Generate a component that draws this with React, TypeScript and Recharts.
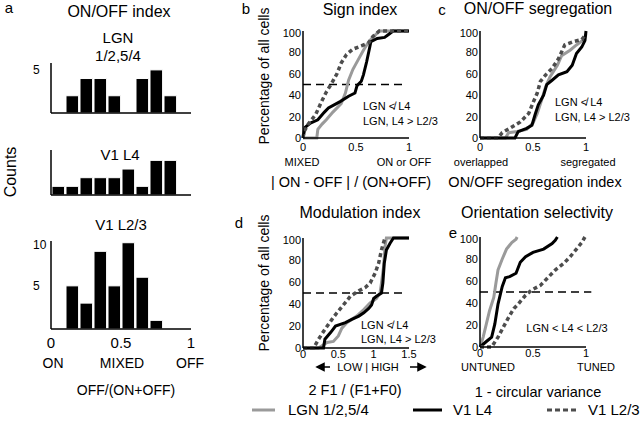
import React from 'react'
import { LineChart, Line, BarChart, Bar, XAxis, YAxis, ReferenceLine } from 'recharts'

const FONT = '"Liberation Sans", Arial, Helvetica, sans-serif'
const GRAY = '#9a9a9a'
const BLACK = '#000'
const DOTTED = '#4d4d4d'

// panel a: ON/OFF index histograms (bins of 0.1)
const binCenters = [0.05, 0.15, 0.25, 0.35, 0.45, 0.55, 0.65, 0.75, 0.85, 0.95]
const countsLgn = [0, 2, 4, 4, 2, 0, 4, 5, 2, 0]
const countsL4 = [1, 1, 2, 2, 2, 3, 1, 4, 4, 0]
const countsL23 = [0, 5, 3, 9, 5, 10, 6, 1, 0, 0]

// cumulative distributions, [index value, % of cells]
const signLgn = [[0, 0], [0.13, 0], [0.14, 8], [0.18, 13], [0.22, 17], [0.28, 24], [0.36, 32], [0.4, 42], [0.43, 54], [0.47, 64], [0.52, 73], [0.57, 82], [0.62, 90], [0.66, 94], [0.72, 100], [1, 100]]
const signL4 = [[0, 0], [0.02, 10], [0.07, 14], [0.14, 17], [0.2, 24], [0.24, 28], [0.35, 34], [0.43, 39], [0.49, 42], [0.51, 49], [0.55, 53], [0.57, 59], [0.6, 71], [0.63, 85], [0.64, 90], [0.7, 93], [0.77, 94], [0.81, 97], [0.85, 100], [1, 100]]
const signL23 = [[0, 0], [0.01, 6], [0.05, 13], [0.12, 22], [0.17, 33], [0.22, 43], [0.27, 51], [0.32, 60], [0.36, 70], [0.41, 78], [0.47, 83], [0.55, 86], [0.62, 89], [0.66, 95], [0.72, 100], [1, 100]]

const segLgn = [[0, 0], [0.24, 0], [0.27, 5], [0.35, 6], [0.44, 8], [0.5, 14], [0.54, 23], [0.58, 35], [0.62, 48], [0.66, 57], [0.73, 68], [0.77, 77], [0.85, 82], [0.91, 87], [0.98, 92], [1, 97]]
const segL4 = [[0, 0], [0.33, 0], [0.36, 6], [0.44, 9], [0.49, 12], [0.52, 22], [0.55, 31], [0.6, 40], [0.63, 50], [0.68, 54], [0.74, 59], [0.82, 62], [0.87, 68], [0.91, 79], [0.96, 85], [0.99, 91], [1, 100]]
const segL23 = [[0, 0], [0.17, 0], [0.21, 5], [0.28, 9], [0.38, 15], [0.46, 23], [0.5, 33], [0.54, 42], [0.57, 53], [0.62, 59], [0.68, 65], [0.74, 74], [0.8, 87], [0.88, 90], [0.96, 92], [1, 97]]

const modLgn = [[0, 0], [0.22, 0], [0.34, 5], [0.43, 6], [0.5, 11], [0.55, 18], [0.62, 23], [0.76, 29], [0.86, 35], [0.95, 41], [1.04, 45], [1.09, 50], [1.11, 59], [1.14, 74], [1.16, 92], [1.18, 100], [1.5, 100]]
const modL4 = [[0, 0], [0.29, 0], [0.31, 8], [0.39, 14], [0.46, 20], [0.6, 23], [0.69, 26], [0.79, 29], [0.86, 32], [0.93, 36], [0.97, 39], [1.0, 45], [1.04, 47], [1.11, 50], [1.13, 59], [1.15, 77], [1.18, 89], [1.23, 95], [1.28, 100], [1.5, 100]]
const modL23 = [[0, 0], [0.15, 0], [0.22, 8], [0.31, 17], [0.41, 26], [0.48, 32], [0.57, 39], [0.67, 47], [0.79, 52], [0.88, 55], [0.95, 59], [1.02, 68], [1.07, 77], [1.11, 89], [1.15, 98], [1.16, 100]]

const oriLgn = [[0, 0], [0.03, 9], [0.06, 21], [0.09, 33], [0.13, 45], [0.15, 58], [0.17, 70], [0.21, 80], [0.25, 89], [0.3, 95], [0.34, 98], [0.35, 100]]
const oriL4 = [[0, 0], [0.06, 5], [0.11, 9], [0.14, 21], [0.17, 39], [0.21, 55], [0.24, 63], [0.28, 64], [0.34, 67], [0.38, 77], [0.43, 82], [0.5, 86], [0.6, 89], [0.68, 94], [0.71, 97], [0.73, 100]]
const oriL23 = [[0, 0], [0.11, 0], [0.17, 9], [0.22, 18], [0.27, 27], [0.32, 35], [0.36, 39], [0.43, 47], [0.49, 52], [0.57, 56], [0.63, 62], [0.71, 70], [0.79, 76], [0.85, 82], [0.91, 89], [0.96, 95], [0.99, 100]]

const pctTicks = [0, 20, 40, 60, 80, 100]
const unitTicks = [0, 0.5, 1]
const modTicks = [0, 0.5, 1, 1.5]

const pts = (a: number[][]) => a.map(([x, y]) => ({ x, y }))

// place a chart so that its plot area covers x0..x1, y0..y1 on the page
function frame(x0: number, y0: number, x1: number, y1: number, yw: number, xh: number) {
  return {
    style: { position: 'absolute' as const, left: x0 - yw - 2, top: y0 - 4 },
    width: x1 - x0 + yw + 2 + 14,
    height: y1 - y0 + 4 + xh,
    margin: { left: 2, top: 4, right: 14, bottom: 0 },
  }
}

function Hist({ x0, y0, x1, y1, yMax, yTicks, counts, xTicks }: any) {
  const xh = xTicks ? 26 : 4
  const f = frame(x0, y0, x1, y1, 30, xh)
  const data = binCenters.map((x, i) => ({ x, n: counts[i] }))
  return (
    <div style={f.style}>
      <BarChart width={f.width} height={f.height} margin={f.margin} data={data} barCategoryGap={0}>
        <XAxis dataKey="x" type="number" domain={[0, 1]} ticks={xTicks ? unitTicks : []} tick={xTicks ? { fontSize: 15, fill: '#000', fontFamily: FONT } : false}
          tickLine={false} tickSize={0} tickMargin={8} height={xh} axisLine={{ stroke: '#000', strokeWidth: 1.5 }} />
        <YAxis type="number" domain={[0, yMax]} ticks={yTicks} width={30} tickLine={false} tickSize={0} tickMargin={18}
          tick={{ fontSize: 12, fill: '#000', fontFamily: FONT, textAnchor: 'start' }} axisLine={{ stroke: '#000', strokeWidth: 1.5 }} />
        <Bar dataKey="n" fill="#000" stroke="#fff" strokeWidth={1} barSize={14} isAnimationActive={false} />
      </BarChart>
    </div>
  )
}

function Cdf({ x0, y0, x1, y1, xMax, xTicks, lgn, l4, l23, refEnd, tickGap }: any) {
  const f = frame(x0, y0, x1, y1, 30, 20)
  const axisLine = { stroke: '#000', strokeWidth: 1.5 }
  const tick = { fontSize: 11, fill: '#000', fontFamily: FONT }
  return (
    <div style={f.style}>
      <LineChart width={f.width} height={f.height} margin={f.margin}>
        <XAxis dataKey="x" type="number" domain={[0, xMax]} ticks={xTicks} tick={tick} tickLine={false} tickSize={0}
          tickMargin={tickGap} height={20} axisLine={axisLine} allowDuplicatedCategory={false} />
        <YAxis dataKey="y" type="number" domain={[0, 100]} ticks={pctTicks} width={30} tick={tick} tickLine={false}
          tickSize={0} tickMargin={2} axisLine={axisLine} />
        {refEnd ? (
          <ReferenceLine segment={[{ x: 0, y: 50 }, { x: refEnd, y: 50 }]} stroke="#000" strokeWidth={1.5}
            strokeDasharray="8 5" ifOverflow="visible" />
        ) : null}
        <Line data={pts(lgn)} dataKey="y" type="linear" stroke={GRAY} strokeWidth={3} dot={false} isAnimationActive={false} />
        <Line data={pts(l4)} dataKey="y" type="linear" stroke={BLACK} strokeWidth={3} dot={false} isAnimationActive={false} />
        <Line data={pts(l23)} dataKey="y" type="linear" stroke={DOTTED} strokeWidth={3.5} strokeDasharray="4 3" dot={false} isAnimationActive={false} />
      </LineChart>
    </div>
  )
}

function T({ x, y, size = 11, anchor = 'middle', rot = false, children }: any) {
  return (
    <text x={x} y={y} fontSize={size} textAnchor={anchor} fontFamily={FONT} fill="#000"
      dominantBaseline={rot ? 'central' : undefined} transform={rot ? `rotate(-90 ${x} ${y})` : undefined}>
      {children}
    </text>
  )
}

export default function App() {
  return (
    <div style={{ position: 'absolute', left: 0, top: 0, width: 640, height: 426, background: '#fff', overflow: 'hidden' }}>
      <Hist x0={51} y0={63} x1={191} y1={113} yMax={5.8} yTicks={[5]} counts={countsLgn} />
      <Hist x0={51} y0={150} x1={191} y1={195} yMax={5.2} yTicks={[5]} counts={countsL4} />
      <Hist x0={51} y0={241} x1={191} y1={329} yMax={10.2} yTicks={[5, 10]} counts={countsL23} xTicks />

      <Cdf x0={303} y0={31} x1={409} y1={138} xMax={1} xTicks={unitTicks} lgn={signLgn} l4={signL4} l23={signL23} refEnd={0.97} tickGap={5} />
      <Cdf x0={480} y0={31} x1={586} y1={138} xMax={1} xTicks={unitTicks} lgn={segLgn} l4={segL4} l23={segL23} refEnd={null} tickGap={5} />
      <Cdf x0={303} y0={238} x1={409} y1={348} xMax={1.5} xTicks={modTicks} lgn={modLgn} l4={modL4} l23={modL23} refEnd={1.47} tickGap={2} />
      <Cdf x0={480} y0={237} x1={586} y1={347} xMax={1} xTicks={unitTicks} lgn={oriLgn} l4={oriL4} l23={oriL23} refEnd={1.05} tickGap={2} />

      <svg width={640} height={426} style={{ position: 'absolute', left: 0, top: 0, pointerEvents: 'none' }}>
        {/* a */}
        <T x={9} y={13} size={15}>a</T>
        <T x={119} y={17} size={16}>ON/OFF index</T>
        <T x={118} y={43} size={15}>LGN</T>
        <T x={118} y={61} size={15}>1/2,5/4</T>
        <T x={120} y={160} size={15}>V1 L4</T>
        <T x={121} y={230} size={15}>V1 L2/3</T>
        <T x={10} y={172} size={16} rot>Counts</T>
        <T x={53} y={368} size={14}>ON</T>
        <T x={122} y={368} size={14}>MIXED</T>
        <T x={190} y={368} size={14}>OFF</T>
        <T x={126} y={395} size={14}>OFF/(ON+OFF)</T>

        {/* b */}
        <T x={246} y={14} size={15}>b</T>
        <T x={360} y={15} size={16}>Sign index</T>
        <T x={264} y={76} size={14} rot>Percentage of all cells</T>
        <T x={302} y={166}>MIXED</T>
        <T x={404} y={166}>ON or OFF</T>
        <T x={351} y={187} size={14.5}>| ON - OFF | / (ON+OFF)</T>
        <T x={363} y={110} anchor="start">LGN ≮ L4</T>
        <T x={363} y={125} anchor="start">LGN, L4 &gt; L2/3</T>

        {/* c */}
        <T x={442} y={15} size={15}>c</T>
        <T x={538} y={14} size={16}>ON/OFF segregation</T>
        <T x={481} y={166}>overlapped</T>
        <T x={588} y={166}>segregated</T>
        <T x={535} y={187} size={14.5}>ON/OFF segregation index</T>
        <T x={555} y={106} anchor="start">LGN ≮ L4</T>
        <T x={555} y={121} anchor="start">LGN, L4 &gt; L2/3</T>

        {/* d */}
        <T x={239} y={228} size={15}>d</T>
        <T x={360} y={218} size={16}>Modulation index</T>
        <T x={264} y={283} size={14} rot>Percentage of all cells</T>
        <T x={368} y={371}>LOW | HIGH</T>
        <path d="M317 367 L324 363.5 L324 370.5 Z M323 367 L330 367" stroke="#000" strokeWidth={1.5} fill="#000" />
        <path d="M425 367 L418 363.5 L418 370.5 Z M410 367 L419 367" stroke="#000" strokeWidth={1.5} fill="#000" />
        <T x={355} y={395} size={14.5}>2 F1 / (F1+F0)</T>
        <T x={361} y={329} anchor="start">LGN ≮ L4</T>
        <T x={361} y={343} anchor="start">LGN, L4 &gt; L2/3</T>

        {/* e */}
        <T x={453} y={238} size={15}>e</T>
        <T x={537} y={218} size={16}>Orientation selectivity</T>
        <T x={488} y={371}>UNTUNED</T>
        <T x={596} y={371}>TUNED</T>
        <T x={538} y={397} size={14.5}>1 - circular variance</T>
        <T x={567} y={332}>LGN &lt; L4 &lt; L2/3</T>

        {/* legend */}
        <line x1={252} y1={410} x2={275} y2={410} stroke={GRAY} strokeWidth={3} />
        <T x={288} y={415} size={15} anchor="start">LGN 1/2,5/4</T>
        <line x1={413} y1={410} x2={442} y2={410} stroke={BLACK} strokeWidth={3} />
        <T x={453} y={415} size={15} anchor="start">V1 L4</T>
        <line x1={547} y1={410} x2={577} y2={410} stroke={DOTTED} strokeWidth={3} strokeDasharray="5 3" />
        <T x={588} y={415} size={15} anchor="start">V1 L2/3</T>
      </svg>
    </div>
  )
}
